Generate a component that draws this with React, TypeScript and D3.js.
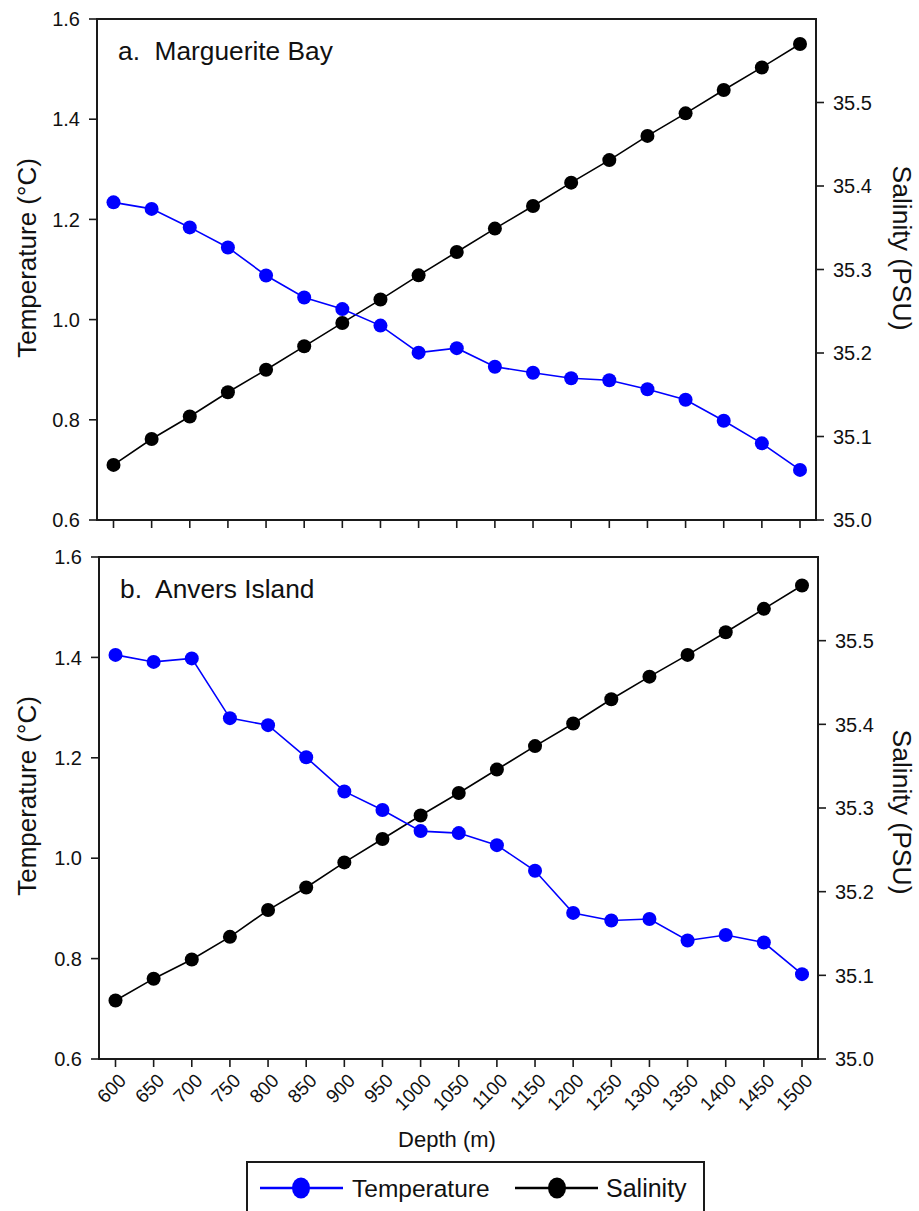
import React from "react";
import * as d3 from "d3";

const depths = [600, 650, 700, 750, 800, 850, 900, 950, 1000, 1050, 1100, 1150, 1200, 1250, 1300, 1350, 1400, 1450, 1500];
const tempA = [1.234, 1.221, 1.184, 1.144, 1.088, 1.044, 1.021, 0.988, 0.934, 0.943, 0.906, 0.894, 0.883, 0.879, 0.861, 0.840, 0.798, 0.753, 0.700];
const salA = [35.066, 35.097, 35.124, 35.153, 35.180, 35.208, 35.236, 35.264, 35.293, 35.321, 35.349, 35.376, 35.404, 35.431, 35.460, 35.487, 35.515, 35.542, 35.570];
const tempB = [1.405, 1.391, 1.398, 1.279, 1.265, 1.201, 1.133, 1.096, 1.054, 1.050, 1.026, 0.975, 0.891, 0.876, 0.879, 0.836, 0.847, 0.832, 0.769];
const salB = [35.070, 35.096, 35.119, 35.146, 35.178, 35.205, 35.235, 35.263, 35.291, 35.318, 35.346, 35.374, 35.401, 35.430, 35.457, 35.483, 35.510, 35.538, 35.566];
const tempTicks = [0.6, 0.8, 1.0, 1.2, 1.4, 1.6];
const salTicks = [35.0, 35.1, 35.2, 35.3, 35.4, 35.5];
const panelTitles = ["a.  Marguerite Bay", "b.  Anvers Island"];

const FONT = "'Liberation Sans', Arial, Helvetica, sans-serif";
const BLUE = "#0000ff";
const AXIS = "#1a1a1a";

type PanelProps = {
  left: number; right: number; top: number; bottom: number;
  temp: number[]; sal: number[]; title: string; showLabels: boolean;
  tempLabelY: number; salLabelY: number;
};

function Panel({ left, right, top, bottom, temp, sal, title, showLabels, tempLabelY, salLabelY }: PanelProps) {
  const x = d3.scaleLinear().domain([600, 1500]).range([left + 16.5, right - 16]);
  const yT = d3.scaleLinear().domain([0.6, 1.6]).range([bottom, top]);
  const yS = d3.scaleLinear().domain([35.0, 35.6]).range([bottom, top]);
  const lineT = d3.line<number>().x((_, i) => x(depths[i])).y((d) => yT(d));
  const lineS = d3.line<number>().x((_, i) => x(depths[i])).y((d) => yS(d));
  const r = 7;
  return (
    <g>
      <path d={lineS(sal) || ""} fill="none" stroke="#000" strokeWidth={1.6} />
      {sal.map((d, i) => (
        <circle key={"s" + i} cx={x(depths[i])} cy={yS(d)} r={r} fill="#000" />
      ))}
      <path d={lineT(temp) || ""} fill="none" stroke={BLUE} strokeWidth={1.6} />
      {temp.map((d, i) => (
        <circle key={"t" + i} cx={x(depths[i])} cy={yT(d)} r={r} fill={BLUE} />
      ))}
      <rect x={left} y={top} width={right - left} height={bottom - top} fill="none" stroke={AXIS} strokeWidth={2} />
      {tempTicks.map((t) => (
        <g key={"lt" + t}>
          <line x1={left - 8} x2={left} y1={yT(t)} y2={yT(t)} stroke={AXIS} strokeWidth={1.6} />
          <text x={left - 17} y={yT(t)} dy="0.36em" textAnchor="end" fontSize={20} fontFamily={FONT} fill="#111">
            {t.toFixed(1)}
          </text>
        </g>
      ))}
      {salTicks.map((t) => (
        <g key={"rt" + t}>
          <line x1={right} x2={right + 8} y1={yS(t)} y2={yS(t)} stroke={AXIS} strokeWidth={1.6} />
          <text x={right + 17} y={yS(t)} dy="0.36em" textAnchor="start" fontSize={20} fontFamily={FONT} fill="#111">
            {t.toFixed(1)}
          </text>
        </g>
      ))}
      {depths.map((dp) => (
        <g key={"xt" + dp}>
          <line x1={x(dp)} x2={x(dp)} y1={bottom} y2={bottom + 8} stroke={AXIS} strokeWidth={1.6} />
          {showLabels && (
            <text
              transform={`translate(${x(dp) + 7},${bottom + 18}) rotate(-45)`}
              textAnchor="end"
              dy="0.36em"
              fontSize={19}
              fontFamily={FONT}
              fill="#111"
            >
              {dp}
            </text>
          )}
        </g>
      ))}
      <text x={left + 21} y={top + 40.5} fontSize={26.3} fontFamily={FONT} fill="#111" style={{ whiteSpace: "pre" }}>
        {title}
      </text>
      <text
        transform={`translate(36,${tempLabelY}) rotate(-90)`}
        textAnchor="middle"
        fontSize={26}
        fontFamily={FONT}
        fill="#111"
      >
        Temperature (°C)
      </text>
      <text
        transform={`translate(893,${salLabelY}) rotate(90)`}
        textAnchor="middle"
        fontSize={26.5}
        fontFamily={FONT}
        fill="#111"
      >
        Salinity (PSU)
      </text>
    </g>
  );
}

export default function App() {
  return (
    <svg width={919} height={1211} style={{ position: "absolute", left: 0, top: 0, background: "#fff" }}>
      <rect width={919} height={1211} fill="#fff" />
      <Panel left={97} right={816} top={19} bottom={520} temp={tempA} sal={salA} title={panelTitles[0]} showLabels={false} tempLabelY={258} salLabelY={248} />
      <Panel left={99} right={818} top={557} bottom={1059} temp={tempB} sal={salB} title={panelTitles[1]} showLabels={true} tempLabelY={796} salLabelY={812} />
      <text x={447} y={1147} textAnchor="middle" fontSize={22} fontFamily={FONT} fill="#111">
        Depth (m)
      </text>
      <g>
        <rect x={247} y={1162} width={457} height={60} fill="#fff" stroke={AXIS} strokeWidth={2} />
        <line x1={260} x2={343} y1={1188} y2={1188} stroke={BLUE} strokeWidth={2.5} />
        <ellipse cx={301} cy={1188} rx={9} ry={10.5} fill={BLUE} />
        <text x={352} y={1196.5} fontSize={24.5} fontFamily={FONT} fill="#111">Temperature</text>
        <line x1={515} x2={598} y1={1188} y2={1188} stroke="#000" strokeWidth={2.5} />
        <ellipse cx={557} cy={1188} rx={9} ry={10.5} fill="#000" />
        <text x={606} y={1196.5} fontSize={25} fontFamily={FONT} fill="#111">Salinity</text>
      </g>
    </svg>
  );
}
